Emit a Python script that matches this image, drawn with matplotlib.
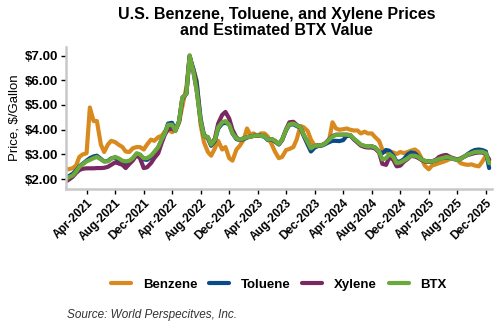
import matplotlib.pyplot as plt
import matplotlib.dates as mdates
import numpy as np
import pandas as pd

plt.rcParams['font.family'] = ['Liberation Sans', 'DejaVu Sans']

# semi-monthly price observations, $/gallon
dates = pd.date_range('2021-01-01', periods=120, freq='SMS')

benzene = [2.42, 2.40, 2.45, 2.55, 2.90, 3.00, 3.05, 4.90, 4.35, 4.35,
           3.40, 3.10, 3.40, 3.55, 3.50, 3.40, 3.30, 3.12, 3.10, 3.25,
           3.30, 3.30, 3.20, 3.40, 3.60, 3.55, 3.70, 3.75, 3.92, 4.02,
           3.90, 4.00, 4.30, 4.95, 5.70, 6.95, 6.45, 6.00, 4.20, 3.50,
           3.10, 2.95, 3.25, 3.55, 3.20, 3.30, 2.85, 2.75, 3.20, 3.35,
           3.60, 4.05, 3.80, 3.85, 3.75, 3.85, 3.85, 3.72, 3.40, 3.10,
           2.85, 2.90, 3.18, 3.22, 3.30, 3.60, 4.15, 4.10, 3.95, 3.60,
           3.35, 3.38, 3.38, 3.45, 3.60, 4.30, 4.05, 4.00, 4.02, 4.05,
           4.00, 3.97, 3.97, 3.85, 3.92, 3.85, 3.85, 3.70, 3.55, 3.20,
           3.10, 3.12, 3.08, 3.02, 3.10, 3.05, 3.10, 3.15, 3.20, 3.10,
           2.85, 2.55, 2.40, 2.55, 2.60, 2.65, 2.70, 2.75, 2.82, 2.85,
           2.78, 2.65, 2.60, 2.58, 2.60, 2.55, 2.52, 2.70, 2.95, 2.75]

toluene = [2.02, 2.12, 2.22, 2.35, 2.52, 2.62, 2.75, 2.85, 2.92, 2.95,
           2.82, 2.72, 2.74, 2.84, 2.88, 2.75, 2.65, 2.62, 2.68, 2.82,
           3.02, 2.98, 2.80, 2.78, 2.90, 3.08, 3.28, 3.58, 3.85, 4.25,
           4.28, 3.98, 4.35, 5.25, 5.45, 6.95, 6.45, 5.90, 4.45, 3.80,
           3.65, 3.35, 3.55, 4.05, 4.25, 4.28, 4.22, 3.85, 3.62, 3.58,
           3.62, 3.68, 3.72, 3.75, 3.78, 3.75, 3.72, 3.58, 3.60, 3.52,
           3.40, 3.58, 3.98, 4.20, 4.22, 4.15, 4.08, 3.75, 3.40, 3.12,
           3.28, 3.34, 3.36, 3.42, 3.50, 3.55, 3.55, 3.54, 3.58, 3.75,
           3.76, 3.64, 3.50, 3.38, 3.34, 3.32, 3.33, 3.28, 3.12, 3.05,
           3.18, 3.15, 2.95, 2.70, 2.72, 2.80, 3.00, 3.08, 3.05, 2.92,
           2.80, 2.74, 2.72, 2.72, 2.76, 2.82, 2.86, 2.88, 2.86, 2.82,
           2.78, 2.82, 2.92, 3.02, 3.12, 3.18, 3.20, 3.18, 3.12, 2.45]

xylene = [1.90, 1.98, 2.10, 2.25, 2.37, 2.42, 2.44, 2.44, 2.44, 2.45,
          2.45, 2.46, 2.50, 2.58, 2.68, 2.64, 2.58, 2.45, 2.62, 2.75,
          2.98, 2.85, 2.45, 2.48, 2.65, 2.85, 3.05, 3.45, 3.80, 4.02,
          4.05, 3.95, 4.32, 5.30, 5.45, 7.00, 6.35, 5.60, 4.35, 3.75,
          3.70, 3.40, 3.65, 4.25, 4.60, 4.72, 4.45, 4.00, 3.68, 3.60,
          3.65, 3.70, 3.72, 3.75, 3.78, 3.75, 3.75, 3.60, 3.62, 3.55,
          3.42, 3.60, 4.02, 4.30, 4.32, 4.20, 4.10, 3.80, 3.50, 3.25,
          3.35, 3.36, 3.38, 3.45, 3.62, 3.74, 3.80, 3.80, 3.80, 3.80,
          3.78, 3.62, 3.48, 3.36, 3.30, 3.28, 3.28, 3.24, 3.08, 2.62,
          2.58, 2.90, 2.78, 2.52, 2.55, 2.70, 2.82, 2.94, 2.92, 2.86,
          2.78, 2.72, 2.70, 2.72, 2.78, 2.90, 2.96, 2.98, 2.90, 2.84,
          2.80, 2.84, 2.92, 2.98, 3.02, 3.06, 3.08, 3.08, 3.02, 2.80]

btx = [2.00, 2.08, 2.15, 2.30, 2.50, 2.60, 2.72, 2.78, 2.85, 2.90,
       2.80, 2.72, 2.72, 2.82, 2.90, 2.85, 2.75, 2.72, 2.75, 2.85,
       3.05, 3.00, 2.85, 2.85, 2.95, 3.10, 3.30, 3.60, 3.85, 4.20,
       4.20, 3.95, 4.35, 5.30, 5.45, 7.00, 6.35, 5.60, 4.35, 3.75,
       3.70, 3.40, 3.60, 4.10, 4.30, 4.35, 4.20, 3.85, 3.65, 3.60,
       3.65, 3.70, 3.72, 3.75, 3.78, 3.75, 3.75, 3.60, 3.62, 3.55,
       3.42, 3.60, 4.00, 4.22, 4.25, 4.18, 4.10, 3.80, 3.50, 3.25,
       3.35, 3.36, 3.38, 3.45, 3.60, 3.72, 3.79, 3.79, 3.80, 3.80,
       3.78, 3.65, 3.52, 3.40, 3.35, 3.32, 3.33, 3.28, 3.12, 2.80,
       2.85, 3.02, 2.90, 2.65, 2.68, 2.75, 2.85, 2.95, 2.95, 2.90,
       2.80, 2.74, 2.72, 2.72, 2.76, 2.82, 2.86, 2.90, 2.87, 2.82,
       2.78, 2.82, 2.92, 3.00, 3.05, 3.10, 3.11, 3.11, 3.05, 2.65]

series = [('Benzene', benzene, '#d98a1e'),
          ('Toluene', toluene, '#0b4a8a'),
          ('Xylene', xylene, '#7a2862'),
          ('BTX', btx, '#6aaa3a')]

fig = plt.figure(figsize=(5, 3.3), dpi=100)
ax = fig.add_axes([0.131, 0.427, 0.852, 0.431])

for name, vals, col in series:
    ax.plot(dates, vals, color=col, lw=3.0, label=name,
            solid_joinstyle='round', solid_capstyle='round')

ax.set_ylim(1.6, 7.35)
ax.set_xlim(pd.Timestamp('2021-01-01'), pd.Timestamp('2025-12-25'))
ax.set_yticks(np.arange(2, 8))
ax.yaxis.set_major_formatter(plt.FuncFormatter(lambda v, p: '$%.2f' % v))
ax.xaxis.set_major_locator(mdates.MonthLocator(bymonth=[4, 8, 12]))
ax.xaxis.set_major_formatter(mdates.DateFormatter('%b-%Y'))

for s in ['top', 'right']:
    ax.spines[s].set_visible(False)
for s in ['left', 'bottom']:
    ax.spines[s].set_color('#c8c8c8')
    ax.spines[s].set_linewidth(1.8)
ax.tick_params(axis='both', length=3.5, width=1, color='black', pad=2)
for lbl in ax.get_yticklabels():
    lbl.set_fontsize(9.5)
    lbl.set_fontweight('bold')
for lbl in ax.get_xticklabels():
    lbl.set_fontsize(8.5)
    lbl.set_fontweight('bold')
    lbl.set_rotation(45)
    lbl.set_ha('right')
    lbl.set_rotation_mode('anchor')

ax.set_ylabel('Price, $/Gallon', fontsize=9.5, labelpad=3)

fig.text(0.553, 0.98, 'U.S. Benzene, Toluene, and Xylene Prices\nand Estimated BTX Value',
         ha='center', va='top', fontsize=11.5, fontweight='bold', linespacing=1.1)

fig.legend(loc='center', bbox_to_anchor=(0.558, 0.138), ncol=4, frameon=False,
           handlelength=1.5, handletextpad=0.9, columnspacing=0.9,
           prop={'size': 9.5, 'weight': 'bold'})

fig.text(0.134, 0.035, 'Source: World Perspecitves, Inc.', fontsize=8.5,
         style='italic', color='#333333')

fig.savefig('out.png', dpi=100)
